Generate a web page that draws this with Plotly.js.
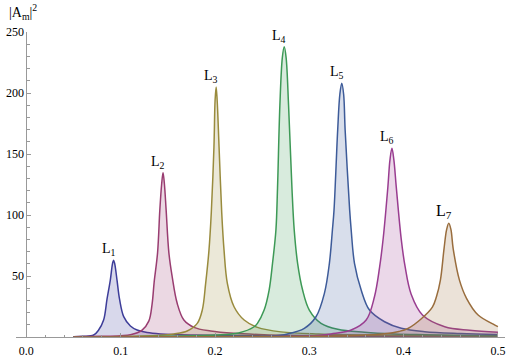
<!DOCTYPE html>
<html>
<head>
<meta charset="utf-8">
<script src="https://cdn.plot.ly/plotly-3.0.1.min.js"></script>
<style>html,body{margin:0;padding:0;background:#fff}</style>
</head>
<body>
<div id="chart" style="width:531px;height:359px"></div>
<script>
// peak names
var peakNames = ['L<sub>1</sub>', 'L<sub>2</sub>', 'L<sub>3</sub>', 'L<sub>4</sub>', 'L<sub>5</sub>', 'L<sub>6</sub>', 'L<sub>7</sub>'];

// Z values and |A_m|^2, one pair per peak
var z1 = [0.05, 0.06, 0.0713, 0.0766, 0.0819, 0.0855, 0.089, 0.0913, 0.0925, 0.0937, 0.0961, 0.0988, 0.1032, 0.1103, 0.1174, 0.128, 0.1422, 0.1777, 0.25, 0.35, 0.5];
var a1 = [0.2, 0.6, 1.6, 5.7, 13.9, 31, 46.7, 60, 63, 60, 46.7, 31, 16.7, 9, 5.7, 3.6, 2.5, 1.6, 0.9, 0.6, 0.4];

var z2 = [0.05, 0.08, 0.1, 0.1103, 0.1227, 0.1298, 0.1333, 0.1355, 0.1391, 0.1415, 0.1434, 0.1449, 0.1464, 0.1482, 0.1511, 0.1546, 0.1599, 0.167, 0.1777, 0.1954, 0.2202, 0.2521, 0.32, 0.4, 0.5];
var a2 = [0.2, 0.6, 1.1, 1.8, 5.7, 13, 27, 45, 69, 104, 125, 134.7, 125, 104, 69, 49.4, 27.6, 13.9, 7.9, 4.9, 3, 1.9, 1.0, 0.7, 0.5];

var z3 = [0.05, 0.1, 0.1422, 0.1564, 0.1705, 0.1812, 0.1865, 0.1901, 0.1936, 0.1961, 0.1989, 0.2001, 0.2012, 0.2023, 0.2043, 0.2071, 0.2096, 0.2131, 0.2202, 0.2309, 0.245, 0.27, 0.31, 0.38, 0.5];
var a3 = [0.1, 0.4, 1.4, 2.5, 4.9, 11.2, 22, 44, 71, 102.5, 156, 194, 205, 194, 156, 102.5, 71, 44, 24.8, 13.9, 7.9, 4.2, 2.4, 1.4, 0.8];

var z4 = [0.05, 0.15, 0.2, 0.225, 0.2415, 0.245, 0.2521, 0.2574, 0.261, 0.2646, 0.2663, 0.2688, 0.2714, 0.2734, 0.2754, 0.278, 0.2816, 0.284, 0.2876, 0.2929, 0.3, 0.3124, 0.3301, 0.3585, 0.3904, 0.4223, 0.46, 0.5];
var a4 = [0.1, 0.6, 1.6, 3.3, 8.4, 11.2, 22.1, 38.5, 60.4, 87.7, 122, 190, 229, 238, 229, 190, 122, 87.7, 60.4, 38.5, 22.1, 11.2, 6.3, 3.9, 2.5, 1.9, 1.4, 1.1];

var z5 = [0.05, 0.2, 0.2593, 0.2769, 0.2947, 0.3071, 0.316, 0.3213, 0.3245, 0.3262, 0.3301, 0.3324, 0.3344, 0.3364, 0.338, 0.3428, 0.3444, 0.3479, 0.355, 0.3638, 0.3798, 0.3975, 0.4223, 0.46, 0.5];
var a5 = [0.1, 0.3, 0.8, 2.5, 7.1, 16.6, 35.8, 60.4, 87.7, 104, 169.7, 199, 208, 199, 169.7, 104, 87.7, 60.4, 38.5, 22.1, 12.5, 7.1, 4.3, 2.8, 2.0];

var z6 = [0.05, 0.25, 0.3018, 0.3231, 0.3444, 0.3603, 0.3691, 0.3745, 0.3785, 0.3833, 0.3855, 0.3876, 0.3897, 0.3922, 0.3975, 0.4015, 0.408, 0.42, 0.4436, 0.47, 0.5];
var a6 = [0.1, 0.3, 0.8, 2.5, 5.7, 13.9, 33, 57, 82, 123, 145, 154.7, 145, 123, 80, 58, 35, 18, 8.4, 5.5, 3.8];

var z7 = [0.05, 0.3, 0.35, 0.38, 0.395, 0.4046, 0.4188, 0.4305, 0.4348, 0.439, 0.4429, 0.4456, 0.4479, 0.4502, 0.4525, 0.4592, 0.4667, 0.479, 0.4968, 0.5];
var a7 = [0.1, 0.5, 1.2, 2.6, 4.5, 7, 15, 24.5, 33, 46.6, 72.7, 88, 93.2, 88, 72.7, 46.6, 31.7, 18, 9.8, 8.5];

var zs = [z1, z2, z3, z4, z5, z6, z7];
var amps = [a1, a2, a3, a4, a5, a6, a7];

// Mathematica style default colours
var lineColors = ['#3d3d99', '#993d71', '#998b3d', '#3d9956', '#3d5b99', '#993d90', '#996d3d'];

function fillOf(hex) {
    var r = parseInt(hex.substr(1, 2), 16);
    var g = parseInt(hex.substr(3, 2), 16);
    var b = parseInt(hex.substr(5, 2), 16);
    return 'rgba(' + r + ',' + g + ',' + b + ',0.2)';
}

var serif = '"Liberation Serif", serif';
var axisGray = '#999999';

var traces = [];
var annotations = [];
for (var i = 0; i < zs.length; i++) {
    traces.push({
        x: zs[i],
        y: amps[i],
        type: 'scatter',
        mode: 'lines',
        line: {color: lineColors[i], width: 1.5, shape: 'spline', smoothing: 1},
        fill: 'tozeroy',
        fillcolor: fillOf(lineColors[i]),
        hoverinfo: 'skip',
        showlegend: false
    });

    // label sits just above the top of each peak
    var peakIdx = 0;
    for (var k = 1; k < amps[i].length; k++) {
        if (amps[i][k] > amps[i][peakIdx]) peakIdx = k;
    }
    annotations.push({
        x: zs[i][peakIdx],
        y: amps[i][peakIdx],
        xref: 'x',
        yref: 'y',
        text: peakNames[i],
        showarrow: false,
        xanchor: 'center',
        yanchor: 'bottom',
        xshift: -5,
        yshift: 0,
        font: {family: serif, size: i === 6 ? 16 : 14, color: '#000'}
    });
}

// axis labels
annotations.push({
    x: -0.0035, y: 1.065, xref: 'x', yref: 'paper',
    text: '|A<sub>m</sub>|<sup>2</sup>', showarrow: false,
    xanchor: 'center', yanchor: 'middle',
    font: {family: serif, size: 14, color: '#000'}
});
annotations.push({
    x: 0.5255, y: 0, xref: 'x', yref: 'y',
    text: 'Z', showarrow: false,
    xanchor: 'center', yanchor: 'middle',
    font: {family: serif, size: 13, color: '#000'}
});

var layout = {
    width: 531,
    height: 359,
    margin: {l: 16, r: 26, t: 32, b: 22},
    paper_bgcolor: '#ffffff',
    plot_bgcolor: '#ffffff',
    showlegend: false,
    font: {family: serif, size: 12, color: '#000'},
    xaxis: {
        range: [-0.011, 0.5075],
        showgrid: false,
        zeroline: false,
        showline: true,
        linecolor: axisGray,
        linewidth: 1,
        ticks: 'inside',
        ticklen: 4,
        tickcolor: axisGray,
        tickmode: 'linear',
        tick0: 0,
        dtick: 0.1,
        tickformat: '.1f',
        ticklabelstandoff: 3,
        tickfont: {family: serif, size: 12, color: '#000'},
        minor: {ticks: 'inside', ticklen: 2.5, tickcolor: axisGray, tickmode: 'linear', tick0: 0, dtick: 0.02, showgrid: false}
    },
    yaxis: {
        range: [0, 250],
        anchor: 'free',
        position: 0.0212,
        showgrid: false,
        zeroline: false,
        showline: true,
        linecolor: axisGray,
        linewidth: 1,
        ticks: 'inside',
        ticklen: 4,
        tickcolor: axisGray,
        tickmode: 'array',
        tickvals: [50, 100, 150, 200, 250],
        tickfont: {family: serif, size: 12, color: '#000'},
        minor: {ticks: 'inside', ticklen: 2.5, tickcolor: axisGray, tickmode: 'linear', tick0: 0, dtick: 10, showgrid: false}
    },
    annotations: annotations
};

Plotly.newPlot('chart', traces, layout, {staticPlot: true, displayModeBar: false});
</script>
</body>
</html>
